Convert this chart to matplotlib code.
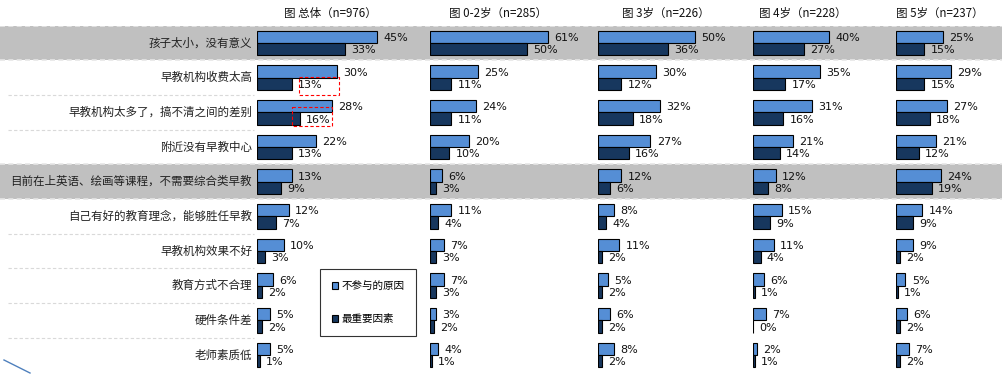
import matplotlib
matplotlib.use("Agg")
import matplotlib.pyplot as plt
from matplotlib.patches import Patch, Rectangle
from matplotlib.lines import Line2D

plt.rcParams['font.family'] = ['Noto Sans CJK SC', 'DejaVu Sans']

reasons = ["孩子太小，没有意义", "早教机构收费太高", "早教机构太多了，搞不清之间的差别",
           "附近没有早教中心", "目前在上英语、绘画等课程，不需要综合类早教",
           "自己有好的教育理念，能够胜任早教", "早教机构效果不好", "教育方式不合理",
           "硬件条件差", "老师素质低"]

panel_titles = ["图 总体（n=976）", "图 0-2岁（n=285）", "图 3岁（n=226）",
                "图 4岁（n=228）", "图 5岁（n=237）"]

# 不参与的原因 (light) / 最重要因素 (dark), in %
total_all = [45, 30, 28, 22, 13, 12, 10, 6, 5, 5]
total_top = [33, 13, 16, 13, 9, 7, 3, 2, 2, 1]
age02_all = [61, 25, 24, 20, 6, 11, 7, 7, 3, 4]
age02_top = [50, 11, 11, 10, 3, 4, 3, 3, 2, 1]
age3_all = [50, 30, 32, 27, 12, 8, 11, 5, 6, 8]
age3_top = [36, 12, 18, 16, 6, 4, 2, 2, 2, 2]
age4_all = [40, 35, 31, 21, 12, 15, 11, 6, 7, 2]
age4_top = [27, 17, 16, 14, 8, 9, 4, 1, 0, 1]
age5_all = [25, 29, 27, 21, 24, 14, 9, 5, 6, 7]
age5_top = [15, 15, 18, 12, 19, 9, 2, 1, 2, 2]

legend_labels = ["不参与的原因", "最重要因素"]
shaded_rows = [0, 4]

light = "#558ED5"
dark = "#17375E"
W, H = 1002, 375

fig = plt.figure(figsize=(W / 100, H / 100), dpi=100)

# vertical frame shared by all axes (pixels from top)
top_px, bot_px = 25.7, 372.3
y0 = 1 - bot_px / H
hh = (bot_px - top_px) / H
n = len(reasons)

# background: shaded bands, separators, category labels
bg = fig.add_axes([0, y0, 1, hh], zorder=0)
bg.set_xlim(0, W)
bg.set_ylim(n - 0.5, -0.5)
bg.axis("off")
for r in shaded_rows:
    bg.axhspan(r - 0.5, r + 0.5, color="#C0C0C0", lw=0)
    for e in (r - 0.5, r + 0.5):
        bg.axhline(e, color="#E6E6E6", lw=1.2, ls=(0, (3, 2)))
for i in range(n - 1):
    b = i + 0.5
    if any(abs(b - (r + s)) < 0.01 for r in shaded_rows for s in (-0.5, 0.5)):
        continue
    bg.plot([8, 254], [b, b], color="#D9D9D9", lw=0.8, ls=(0, (3, 2)))
for i, lab in enumerate(reasons):
    bg.text(252, i, lab, ha="right", va="center", fontsize=8.3, color="#222222")

# panels: left pixel, width pixel, px per percent
panels = [
    (257, 160, 2.667, total_all, total_top),
    (430, 150, 1.93, age02_all, age02_top),
    (598, 140, 1.94, age3_all, age3_top),
    (753, 130, 1.90, age4_all, age4_top),
    (896, 100, 1.89, age5_all, age5_top),
]
title_x = [330, 498, 666, 803, 940]

bh = 0.355
axes = []
for (x0, wpx, scale, va, vb), title, tx in zip(panels, panel_titles, title_x):
    ax = fig.add_axes([x0 / W, y0, wpx / W, hh], zorder=1)
    ax.set_facecolor("none")
    ax.set_xlim(0, wpx / scale)
    ax.set_ylim(n - 0.5, -0.5)
    ax.axis("off")
    ys = list(range(n))
    ax.barh([y - bh / 2 for y in ys], va, height=bh, color=light,
            edgecolor="black", linewidth=0.8)
    ax.barh([y + bh / 2 for y in ys], vb, height=bh, color=dark,
            edgecolor="black", linewidth=0.8)
    for y, a, b in zip(ys, va, vb):
        ax.annotate(f"{a}%", (a, y - bh / 2 + 0.03), xytext=(4.5, 0),
                    textcoords="offset points", ha="left", va="center",
                    fontsize=8, family="DejaVu Sans", color="#111111")
        ax.annotate(f"{b}%", (b, y + bh / 2 + 0.03), xytext=(4.5, 0),
                    textcoords="offset points", ha="left", va="center",
                    fontsize=8, family="DejaVu Sans", color="#111111")
    fig.text(tx / W, 1 - 13 / H, title, ha="center", va="center",
             fontsize=8.3, color="#111111")
    axes.append(ax)

# red dashed highlight boxes in the total panel
for (bx0, bx1, by0, by1) in [(15.75, 30.75, 0.97, 1.50), (13.2, 28.0, 1.86, 2.39)]:
    axes[0].add_patch(Rectangle((bx0, by0), bx1 - bx0, by1 - by0, fill=False,
                                edgecolor="#FF0000", lw=0.8, ls=(0, (3, 2)),
                                clip_on=False, zorder=5))

handles = [Patch(facecolor=light, edgecolor="black", lw=0.8),
           Patch(facecolor=dark, edgecolor="black", lw=0.8)]
leg = fig.legend(handles, legend_labels, loc="upper left",
                 bbox_to_anchor=(320 / W, 1 - 269 / H), borderaxespad=0,
                 fontsize=7.6, handlelength=0.65, handleheight=0.65,
                 handletextpad=0.25, labelspacing=2.2, borderpad=1.1,
                 frameon=True, fancybox=False, edgecolor="black")
leg.get_frame().set_linewidth(0.8)

fig.add_artist(Line2D([4 / W, 30 / W], [1 - 360 / H, 1 - 373 / H],
                      color="#4F81BD", lw=1))

fig.savefig("out.png", dpi=100)
